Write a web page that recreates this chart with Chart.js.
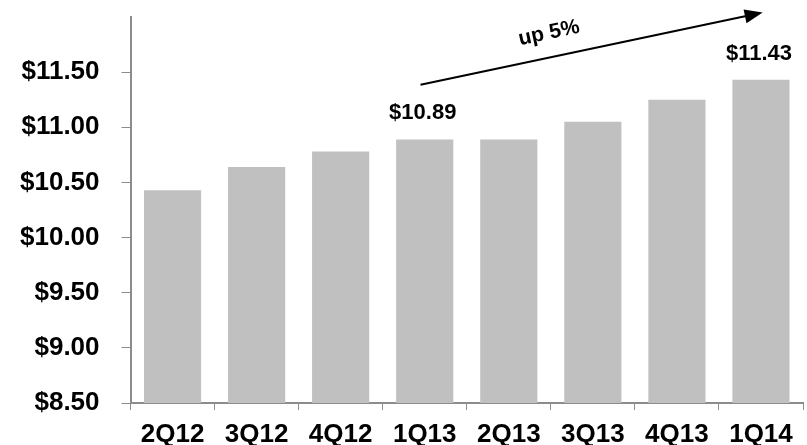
<!DOCTYPE html>
<html>
<head>
<meta charset="utf-8">
<script src="https://cdn.jsdelivr.net/npm/chart.js@4.4.0/dist/chart.umd.min.js"></script>
<style>
  html, body { margin: 0; padding: 0; background: #fff; }
  #wrap { width: 807px; height: 445px; }
</style>
</head>
<body>
<div id="wrap"><canvas id="barChart"></canvas></div>
<script>
// quarterly values
let quarters = ['2Q12', '3Q12', '4Q12', '1Q13', '2Q13', '3Q13', '4Q13', '1Q14'];
let values = [10.43, 10.64, 10.78, 10.89, 10.89, 11.05, 11.25, 11.43];
let yTicks = [8.5, 9.0, 9.5, 10.0, 10.5, 11.0, 11.5];

// bars that get a value on top
let labelled = [3, 7];

// growth arrow, in data units (category index, value)
let arrowFrom = [2.95, 11.385];
let arrowTo = [7.02, 12.04];
let arrowText = 'up 5%';

let axisGrey = '#8c8c8c';
let font = 'Liberation Sans, Arial, sans-serif';

let annotations = {
    id: 'annotations',
    afterDatasetsDraw(chart) {
        let ctx = chart.ctx;
        let x = chart.scales.x;
        let y = chart.scales.y;
        let meta = chart.getDatasetMeta(0);

        ctx.save();
        ctx.fillStyle = '#000';
        ctx.font = 'bold 22px ' + font;
        ctx.textAlign = 'center';
        ctx.textBaseline = 'bottom';
        labelled.forEach(i => {
            let bar = meta.data[i];
            ctx.fillText('$' + values[i].toFixed(2), bar.x - 2, bar.y - 15);
        });

        // arrow
        let x1 = x.getPixelForValue(arrowFrom[0]);
        let y1 = y.getPixelForValue(arrowFrom[1]);
        let x2 = x.getPixelForValue(arrowTo[0]);
        let y2 = y.getPixelForValue(arrowTo[1]);
        let ang = Math.atan2(y2 - y1, x2 - x1);
        let head = 18;

        ctx.strokeStyle = '#000';
        ctx.lineWidth = 2;
        ctx.beginPath();
        ctx.moveTo(x1, y1);
        ctx.lineTo(x2 - head * Math.cos(ang) * 0.8, y2 - head * Math.sin(ang) * 0.8);
        ctx.stroke();

        ctx.beginPath();
        ctx.moveTo(x2, y2);
        ctx.lineTo(x2 - head * Math.cos(ang) + 7 * Math.sin(ang), y2 - head * Math.sin(ang) - 7 * Math.cos(ang));
        ctx.lineTo(x2 - head * Math.cos(ang) - 7 * Math.sin(ang), y2 - head * Math.sin(ang) + 7 * Math.cos(ang));
        ctx.closePath();
        ctx.fill();

        // text along the arrow
        let t = 0.39;
        let tx = x1 + (x2 - x1) * t + 24 * Math.sin(ang);
        let ty = y1 + (y2 - y1) * t - 24 * Math.cos(ang);
        ctx.translate(tx, ty);
        ctx.rotate(ang);
        ctx.font = 'bold 21px ' + font;
        ctx.textBaseline = 'middle';
        ctx.fillText(arrowText, 0, 0);
        ctx.restore();
    }
};

let barChart = new Chart(document.getElementById('barChart'), {
    type: 'bar',
    data: {
        labels: quarters,
        datasets: [{
            data: values,
            backgroundColor: '#c0c0c0',
            barPercentage: 0.68,
            categoryPercentage: 1
        }]
    },
    options: {
        responsive: true,
        maintainAspectRatio: false,
        animation: false,
        layout: {
            padding: { top: 17, right: 4, left: -2, bottom: 0 }
        },
        plugins: {
            legend: { display: false },
            tooltip: { enabled: false }
        },
        scales: {
            x: {
                // keep the label strip tight under the axis
                afterFit: axis => {
                    axis.height = 42;
                },
                grid: {
                    drawOnChartArea: false,
                    color: axisGrey,
                    tickLength: 7,
                    lineWidth: 1
                },
                border: { color: axisGrey, width: 2 },
                ticks: {
                    color: '#000',
                    font: { family: font, size: 26, weight: 'bold', lineHeight: 1 },
                    padding: 12,
                    maxRotation: 0
                }
            },
            y: {
                min: 8.5,
                max: 12,
                afterBuildTicks: axis => {
                    axis.ticks = yTicks.map(v => ({ value: v }));
                },
                // labels sit well inside the plot height, no extra room needed
                afterFit: axis => {
                    axis.paddingTop = 0;
                    axis.paddingBottom = 0;
                },
                grid: {
                    drawOnChartArea: false,
                    color: axisGrey,
                    tickLength: 9,
                    lineWidth: 1
                },
                border: { color: axisGrey, width: 2 },
                ticks: {
                    color: '#000',
                    font: { family: font, size: 26, weight: 'bold' },
                    padding: 22,
                    callback: v => '$' + Number(v).toFixed(2)
                }
            }
        }
    },
    plugins: [annotations]
});
</script>
</body>
</html>
